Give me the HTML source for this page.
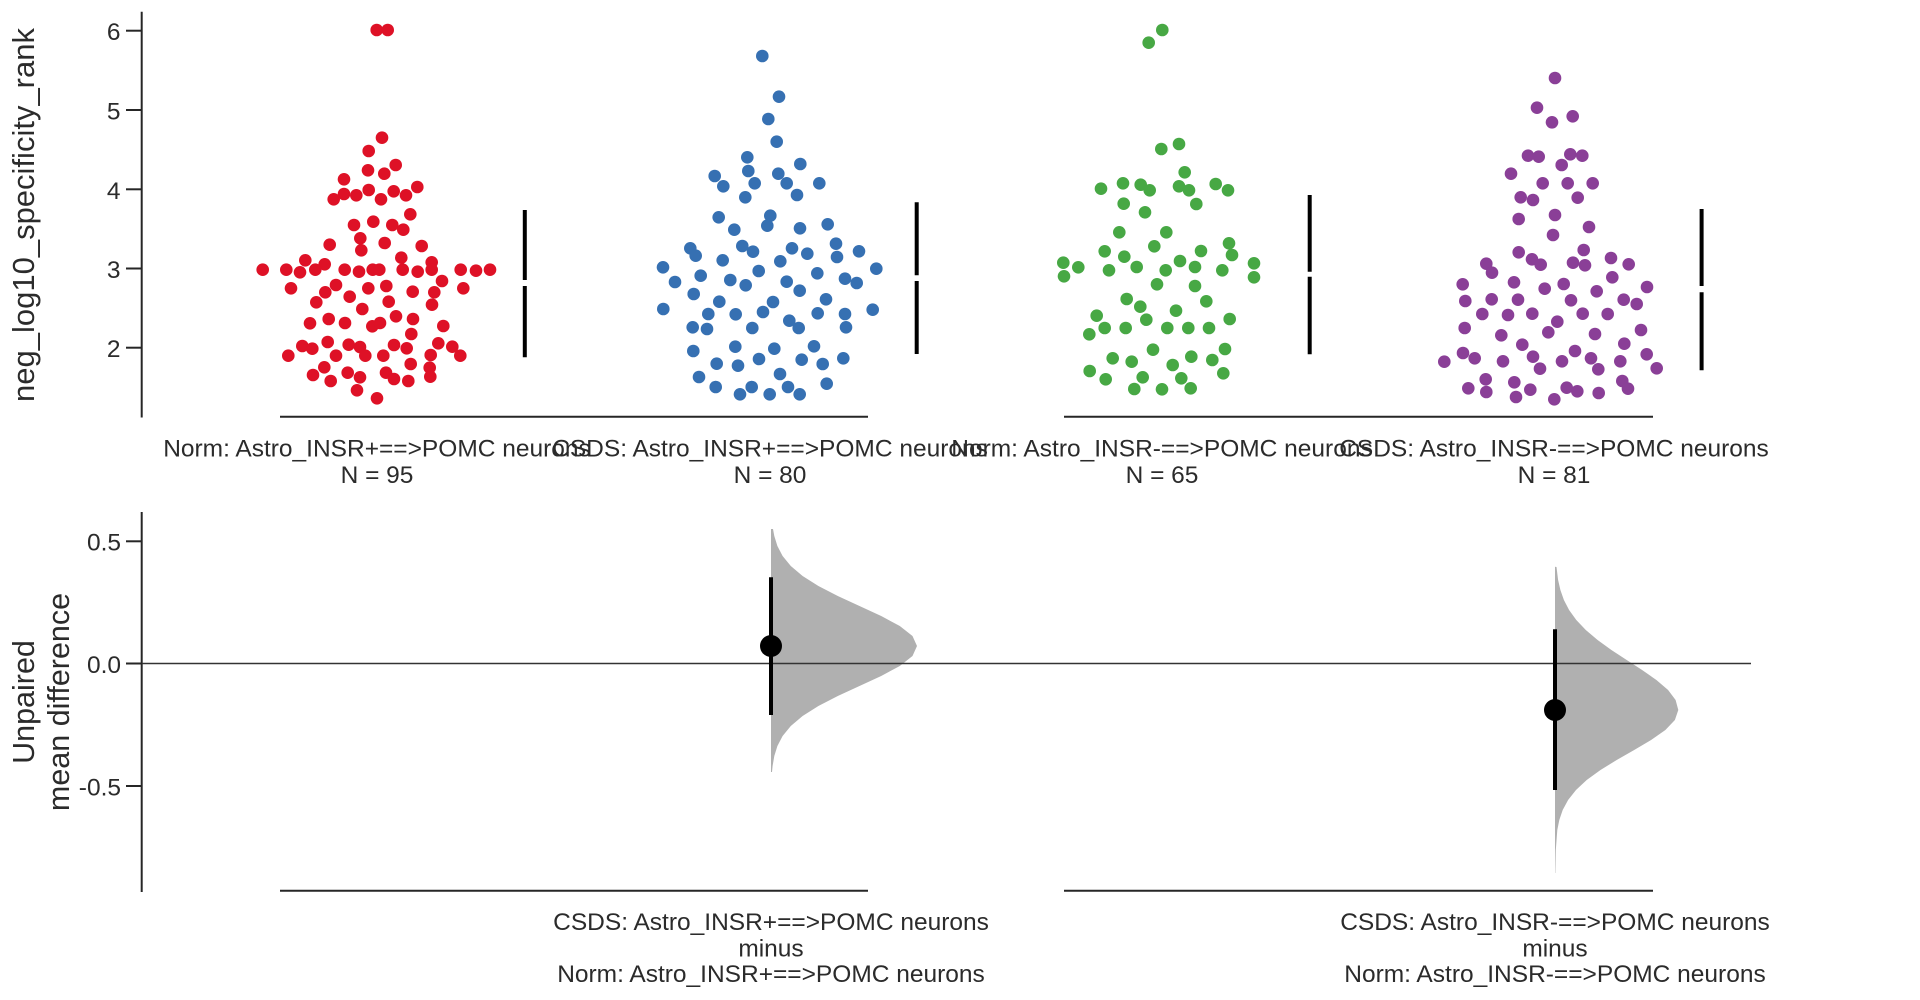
<!DOCTYPE html>
<html>
<head>
<meta charset="utf-8">
<style>
html,body{margin:0;padding:0;background:#fff;overflow:hidden;}
svg{display:block;}
text{font-family:"Liberation Sans",Arial,sans-serif;fill:#2b2b2b;}
</style>
</head>
<body>
<svg width="1920" height="1000" viewBox="0 0 1920 1000" xmlns="http://www.w3.org/2000/svg">
<rect x="0" y="0" width="1920" height="1000" fill="#fff"/>

<!-- ===== TOP PANEL AXES ===== -->
<g stroke="#262626" stroke-width="2" fill="none">
  <line x1="141.7" y1="11.7" x2="141.7" y2="417.5"/>
  <line x1="126" y1="30.7" x2="142" y2="30.7"/>
  <line x1="126" y1="110" x2="142" y2="110"/>
  <line x1="126" y1="189.3" x2="142" y2="189.3"/>
  <line x1="126" y1="268.5" x2="142" y2="268.5"/>
  <line x1="126" y1="347.7" x2="142" y2="347.7"/>
  <line x1="280" y1="416.7" x2="868" y2="416.7"/>
  <line x1="1064" y1="416.7" x2="1653" y2="416.7"/>
</g>
<g font-size="24.5" text-anchor="end">
  <text x="120.5" y="40.2">6</text>
  <text x="120.5" y="119.5">5</text>
  <text x="120.5" y="198.8">4</text>
  <text x="120.5" y="278">3</text>
  <text x="120.5" y="357.2">2</text>
</g>
<text transform="translate(34,215) rotate(-90)" text-anchor="middle" font-size="31">neg_log10_specificity_rank</text>

<g font-size="24.5" text-anchor="middle">
  <text x="377" y="456.5">Norm: Astro_INSR+==&gt;POMC neurons</text>
  <text x="377" y="483">N = 95</text>
  <text x="770" y="456.5">CSDS: Astro_INSR+==&gt;POMC neurons</text>
  <text x="770" y="483">N = 80</text>
  <text x="1162" y="456.5">Norm: Astro_INSR-==&gt;POMC neurons</text>
  <text x="1162" y="483">N = 65</text>
  <text x="1554" y="456.5">CSDS: Astro_INSR-==&gt;POMC neurons</text>
  <text x="1554" y="483">N = 81</text>
</g>

<!-- error bars (mean ± sd with gap) -->
<g stroke="#000" stroke-width="4">
  <line x1="524.8" y1="210" x2="524.8" y2="280"/>
  <line x1="524.8" y1="286" x2="524.8" y2="357.3"/>
  <line x1="916.7" y1="202.3" x2="916.7" y2="275.3"/>
  <line x1="916.7" y1="281" x2="916.7" y2="354"/>
  <line x1="1309.7" y1="195" x2="1309.7" y2="271.7"/>
  <line x1="1309.7" y1="276.7" x2="1309.7" y2="354.3"/>
  <line x1="1701.6" y1="209" x2="1701.6" y2="286"/>
  <line x1="1701.6" y1="292.3" x2="1701.6" y2="370.3"/>
</g>

<!-- Group 1 red -->
<g fill="#de1126">
<circle cx="376.7" cy="30" r="6.3"/><circle cx="387.7" cy="30" r="6.3"/>
<circle cx="382" cy="137.7" r="6.3"/><circle cx="368.7" cy="151" r="6.3"/>
<circle cx="395.7" cy="165" r="6.3"/><circle cx="368" cy="170.3" r="6.3"/>
<circle cx="384.3" cy="173.7" r="6.3"/><circle cx="344" cy="179.3" r="6.3"/>
<circle cx="417.3" cy="187" r="6.3"/><circle cx="344" cy="194" r="6.3"/>
<circle cx="356.3" cy="195.3" r="6.3"/><circle cx="368.7" cy="190" r="6.3"/>
<circle cx="393.7" cy="191.3" r="6.3"/><circle cx="406" cy="195.3" r="6.3"/>
<circle cx="381" cy="199.3" r="6.3"/><circle cx="333.7" cy="199.3" r="6.3"/>
<circle cx="410.3" cy="214.3" r="6.3"/><circle cx="354" cy="225" r="6.3"/>
<circle cx="373.3" cy="221.7" r="6.3"/><circle cx="392.3" cy="225" r="6.3"/>
<circle cx="403.3" cy="229.7" r="6.3"/><circle cx="360.3" cy="238.3" r="6.3"/>
<circle cx="329.7" cy="244.7" r="6.3"/><circle cx="384.7" cy="243" r="6.3"/>
<circle cx="421.7" cy="246" r="6.3"/><circle cx="361.3" cy="250.3" r="6.3"/>
<circle cx="401.3" cy="257.7" r="6.3"/><circle cx="305.3" cy="260.3" r="6.3"/>
<circle cx="324.7" cy="264.3" r="6.3"/><circle cx="431.7" cy="262.3" r="6.3"/>
<circle cx="262.7" cy="269.7" r="6.3"/><circle cx="286.3" cy="269.7" r="6.3"/>
<circle cx="300" cy="272.3" r="6.3"/><circle cx="315.3" cy="269.7" r="6.3"/>
<circle cx="344.7" cy="269.7" r="6.3"/><circle cx="359" cy="271.7" r="6.3"/>
<circle cx="372.7" cy="269.7" r="6.3"/><circle cx="379.3" cy="269.7" r="6.3"/>
<circle cx="402.7" cy="269.7" r="6.3"/><circle cx="417.7" cy="271.7" r="6.3"/>
<circle cx="431.7" cy="269.7" r="6.3"/><circle cx="460.7" cy="269.7" r="6.3"/>
<circle cx="476" cy="270.7" r="6.3"/><circle cx="490" cy="269.7" r="6.3"/>
<circle cx="442" cy="281" r="6.3"/><circle cx="291" cy="288.3" r="6.3"/>
<circle cx="336" cy="285" r="6.3"/><circle cx="368.3" cy="288.3" r="6.3"/>
<circle cx="386.3" cy="286" r="6.3"/><circle cx="412.7" cy="291.7" r="6.3"/>
<circle cx="434.3" cy="292.3" r="6.3"/><circle cx="463.3" cy="288.3" r="6.3"/>
<circle cx="325.3" cy="292.3" r="6.3"/><circle cx="349.7" cy="296.7" r="6.3"/>
<circle cx="316.3" cy="302.3" r="6.3"/><circle cx="388.7" cy="301.7" r="6.3"/>
<circle cx="432" cy="304.7" r="6.3"/><circle cx="362.3" cy="309" r="6.3"/>
<circle cx="396" cy="316.3" r="6.3"/><circle cx="413" cy="319" r="6.3"/>
<circle cx="328.7" cy="319" r="6.3"/><circle cx="310" cy="323.3" r="6.3"/>
<circle cx="345" cy="323" r="6.3"/><circle cx="372.3" cy="326.3" r="6.3"/>
<circle cx="380" cy="323" r="6.3"/><circle cx="443.3" cy="326" r="6.3"/>
<circle cx="411.3" cy="334" r="6.3"/><circle cx="327.7" cy="342" r="6.3"/>
<circle cx="302.3" cy="346" r="6.3"/><circle cx="312.3" cy="348.7" r="6.3"/>
<circle cx="348.7" cy="344.7" r="6.3"/><circle cx="360" cy="347" r="6.3"/>
<circle cx="365.3" cy="355.7" r="6.3"/><circle cx="394" cy="345" r="6.3"/>
<circle cx="406.7" cy="348.3" r="6.3"/><circle cx="438.3" cy="343.3" r="6.3"/>
<circle cx="452.3" cy="346.7" r="6.3"/><circle cx="288.3" cy="355.7" r="6.3"/>
<circle cx="336" cy="355.7" r="6.3"/><circle cx="383.3" cy="355.7" r="6.3"/>
<circle cx="430.7" cy="355" r="6.3"/><circle cx="460.3" cy="355.7" r="6.3"/>
<circle cx="410.7" cy="364" r="6.3"/><circle cx="324.3" cy="367.3" r="6.3"/>
<circle cx="429.7" cy="367.7" r="6.3"/><circle cx="313" cy="375" r="6.3"/>
<circle cx="347.7" cy="372.7" r="6.3"/><circle cx="360" cy="377.3" r="6.3"/>
<circle cx="386" cy="372.7" r="6.3"/><circle cx="394" cy="379" r="6.3"/>
<circle cx="408.3" cy="381" r="6.3"/><circle cx="430.3" cy="376.7" r="6.3"/>
<circle cx="330.7" cy="381" r="6.3"/><circle cx="357" cy="390.3" r="6.3"/>
<circle cx="377" cy="398.3" r="6.3"/>
</g>

<!-- Group 2 blue -->
<g fill="#3670b2">
<circle cx="762.3" cy="56" r="6.3"/><circle cx="779" cy="96.7" r="6.3"/>
<circle cx="768.3" cy="119" r="6.3"/><circle cx="776.7" cy="141.7" r="6.3"/>
<circle cx="747.3" cy="157.3" r="6.3"/><circle cx="800.3" cy="164" r="6.3"/>
<circle cx="748.3" cy="171" r="6.3"/><circle cx="778.3" cy="173.7" r="6.3"/>
<circle cx="714.7" cy="176" r="6.3"/><circle cx="723.3" cy="186.3" r="6.3"/>
<circle cx="754.7" cy="183.3" r="6.3"/><circle cx="786.7" cy="183.3" r="6.3"/>
<circle cx="819.3" cy="183.3" r="6.3"/><circle cx="797" cy="195" r="6.3"/>
<circle cx="745.3" cy="197.3" r="6.3"/><circle cx="718.7" cy="217.3" r="6.3"/>
<circle cx="770.3" cy="215.7" r="6.3"/><circle cx="767.3" cy="225.7" r="6.3"/>
<circle cx="734.3" cy="229.7" r="6.3"/><circle cx="800" cy="228.3" r="6.3"/>
<circle cx="827.7" cy="224.3" r="6.3"/><circle cx="690.3" cy="248.3" r="6.3"/>
<circle cx="695.7" cy="255.7" r="6.3"/><circle cx="742.3" cy="246" r="6.3"/>
<circle cx="753" cy="251.7" r="6.3"/><circle cx="792" cy="248.3" r="6.3"/>
<circle cx="807.3" cy="253.7" r="6.3"/><circle cx="836" cy="243.7" r="6.3"/>
<circle cx="837" cy="257" r="6.3"/><circle cx="859" cy="251.3" r="6.3"/>
<circle cx="722.7" cy="260.3" r="6.3"/><circle cx="780.3" cy="261.3" r="6.3"/>
<circle cx="663" cy="267.3" r="6.3"/><circle cx="876.3" cy="268.7" r="6.3"/>
<circle cx="675" cy="282" r="6.3"/><circle cx="700.7" cy="275.7" r="6.3"/>
<circle cx="730.3" cy="280" r="6.3"/><circle cx="745.7" cy="285.3" r="6.3"/>
<circle cx="758.7" cy="271" r="6.3"/><circle cx="786.7" cy="281.7" r="6.3"/>
<circle cx="817.3" cy="273.3" r="6.3"/><circle cx="845" cy="278.7" r="6.3"/>
<circle cx="856.7" cy="283" r="6.3"/><circle cx="799.7" cy="290.7" r="6.3"/>
<circle cx="693.7" cy="294" r="6.3"/><circle cx="719.3" cy="301.7" r="6.3"/>
<circle cx="773" cy="302" r="6.3"/><circle cx="826" cy="299.3" r="6.3"/>
<circle cx="663.3" cy="309" r="6.3"/><circle cx="708.3" cy="314" r="6.3"/>
<circle cx="735.7" cy="314.3" r="6.3"/><circle cx="763" cy="312" r="6.3"/>
<circle cx="789.3" cy="320.7" r="6.3"/><circle cx="817.7" cy="313.3" r="6.3"/>
<circle cx="845" cy="314" r="6.3"/><circle cx="872.7" cy="309.7" r="6.3"/>
<circle cx="692.7" cy="327.3" r="6.3"/><circle cx="707" cy="329" r="6.3"/>
<circle cx="752.3" cy="328" r="6.3"/><circle cx="798.7" cy="328" r="6.3"/>
<circle cx="846" cy="327.3" r="6.3"/><circle cx="693.3" cy="351" r="6.3"/>
<circle cx="735.3" cy="346.7" r="6.3"/><circle cx="774.3" cy="348.7" r="6.3"/>
<circle cx="814" cy="346.3" r="6.3"/><circle cx="843.3" cy="358.3" r="6.3"/>
<circle cx="716.7" cy="363.7" r="6.3"/><circle cx="738" cy="365.7" r="6.3"/>
<circle cx="759" cy="359" r="6.3"/><circle cx="801.7" cy="359.7" r="6.3"/>
<circle cx="822.7" cy="364" r="6.3"/><circle cx="699" cy="377" r="6.3"/>
<circle cx="780" cy="374" r="6.3"/><circle cx="826.7" cy="383.7" r="6.3"/>
<circle cx="715.7" cy="387" r="6.3"/><circle cx="751.7" cy="387" r="6.3"/>
<circle cx="788" cy="387" r="6.3"/><circle cx="740" cy="394.3" r="6.3"/>
<circle cx="769.7" cy="394.3" r="6.3"/><circle cx="799.7" cy="394.3" r="6.3"/>
</g>

<!-- Group 3 green -->
<g fill="#47a844">
<circle cx="1162.3" cy="30" r="6.3"/><circle cx="1148.7" cy="42.7" r="6.3"/>
<circle cx="1161.3" cy="149" r="6.3"/><circle cx="1179" cy="144" r="6.3"/>
<circle cx="1184.7" cy="172.3" r="6.3"/><circle cx="1101" cy="188.7" r="6.3"/>
<circle cx="1123" cy="183.3" r="6.3"/><circle cx="1140.7" cy="184.7" r="6.3"/>
<circle cx="1149.7" cy="190.3" r="6.3"/><circle cx="1179" cy="186.3" r="6.3"/>
<circle cx="1189" cy="190.3" r="6.3"/><circle cx="1215.7" cy="184" r="6.3"/>
<circle cx="1228" cy="190.3" r="6.3"/><circle cx="1123.7" cy="203.7" r="6.3"/>
<circle cx="1196.3" cy="204" r="6.3"/><circle cx="1145" cy="212.3" r="6.3"/>
<circle cx="1119.3" cy="232.3" r="6.3"/><circle cx="1166.3" cy="232.3" r="6.3"/>
<circle cx="1154.3" cy="246.3" r="6.3"/><circle cx="1229" cy="243.3" r="6.3"/>
<circle cx="1104.7" cy="251.3" r="6.3"/><circle cx="1124.3" cy="256.7" r="6.3"/>
<circle cx="1201" cy="251" r="6.3"/><circle cx="1232" cy="255" r="6.3"/>
<circle cx="1063.3" cy="262.7" r="6.3"/><circle cx="1078.3" cy="267.3" r="6.3"/>
<circle cx="1064" cy="276.3" r="6.3"/><circle cx="1109" cy="270.3" r="6.3"/>
<circle cx="1136.7" cy="267" r="6.3"/><circle cx="1165.7" cy="270.3" r="6.3"/>
<circle cx="1180" cy="261" r="6.3"/><circle cx="1195" cy="267" r="6.3"/>
<circle cx="1222.3" cy="270.3" r="6.3"/><circle cx="1254" cy="263.3" r="6.3"/>
<circle cx="1254" cy="277.3" r="6.3"/><circle cx="1157" cy="284.3" r="6.3"/>
<circle cx="1195" cy="286" r="6.3"/><circle cx="1126.7" cy="299" r="6.3"/>
<circle cx="1140.3" cy="306.7" r="6.3"/><circle cx="1206.3" cy="301.3" r="6.3"/>
<circle cx="1096.7" cy="315.7" r="6.3"/><circle cx="1176" cy="310.7" r="6.3"/>
<circle cx="1146.3" cy="319.7" r="6.3"/><circle cx="1229.7" cy="319" r="6.3"/>
<circle cx="1089.3" cy="334.3" r="6.3"/><circle cx="1104.7" cy="328" r="6.3"/>
<circle cx="1125.7" cy="328" r="6.3"/><circle cx="1167.3" cy="328" r="6.3"/>
<circle cx="1188.3" cy="328" r="6.3"/><circle cx="1209" cy="328" r="6.3"/>
<circle cx="1153" cy="349.7" r="6.3"/><circle cx="1225" cy="349" r="6.3"/>
<circle cx="1112.7" cy="358.3" r="6.3"/><circle cx="1131.7" cy="361.7" r="6.3"/>
<circle cx="1172.7" cy="365" r="6.3"/><circle cx="1191.3" cy="356.7" r="6.3"/>
<circle cx="1212.3" cy="360" r="6.3"/><circle cx="1089.7" cy="371" r="6.3"/>
<circle cx="1223.3" cy="373.3" r="6.3"/><circle cx="1105.7" cy="379.3" r="6.3"/>
<circle cx="1142.7" cy="377.3" r="6.3"/><circle cx="1181.3" cy="378.3" r="6.3"/>
<circle cx="1134.3" cy="389" r="6.3"/><circle cx="1162" cy="389.3" r="6.3"/>
<circle cx="1190.7" cy="388.3" r="6.3"/>
</g>

<!-- Group 4 purple -->
<g fill="#8a3f97">
<circle cx="1555" cy="78" r="6.3"/><circle cx="1537" cy="107.7" r="6.3"/>
<circle cx="1552" cy="122.3" r="6.3"/><circle cx="1572.7" cy="116.3" r="6.3"/>
<circle cx="1528" cy="155.7" r="6.3"/><circle cx="1538.7" cy="156.7" r="6.3"/>
<circle cx="1570.3" cy="154.3" r="6.3"/><circle cx="1582.3" cy="155.7" r="6.3"/>
<circle cx="1561.7" cy="165" r="6.3"/><circle cx="1511" cy="173.7" r="6.3"/>
<circle cx="1542.7" cy="183.3" r="6.3"/><circle cx="1567.7" cy="183.3" r="6.3"/>
<circle cx="1592.7" cy="183.3" r="6.3"/><circle cx="1520.7" cy="197.3" r="6.3"/>
<circle cx="1533" cy="200" r="6.3"/><circle cx="1577.7" cy="197.7" r="6.3"/>
<circle cx="1555" cy="215" r="6.3"/><circle cx="1518.7" cy="219" r="6.3"/>
<circle cx="1589" cy="227" r="6.3"/><circle cx="1553" cy="235" r="6.3"/>
<circle cx="1518.7" cy="252.3" r="6.3"/><circle cx="1583.7" cy="250" r="6.3"/>
<circle cx="1486.3" cy="263.7" r="6.3"/><circle cx="1492" cy="272.7" r="6.3"/>
<circle cx="1532" cy="259.3" r="6.3"/><circle cx="1540.7" cy="264.7" r="6.3"/>
<circle cx="1573" cy="262.7" r="6.3"/><circle cx="1585" cy="265.3" r="6.3"/>
<circle cx="1611" cy="258" r="6.3"/><circle cx="1628.7" cy="264.3" r="6.3"/>
<circle cx="1612.3" cy="277.3" r="6.3"/><circle cx="1462.7" cy="284.3" r="6.3"/>
<circle cx="1514" cy="282.3" r="6.3"/><circle cx="1544.7" cy="288.7" r="6.3"/>
<circle cx="1563.7" cy="284" r="6.3"/><circle cx="1596.7" cy="291.3" r="6.3"/>
<circle cx="1647" cy="287" r="6.3"/><circle cx="1465.3" cy="301" r="6.3"/>
<circle cx="1491.7" cy="299.3" r="6.3"/><circle cx="1518" cy="299.7" r="6.3"/>
<circle cx="1571" cy="300.3" r="6.3"/><circle cx="1623.7" cy="299.7" r="6.3"/>
<circle cx="1636.7" cy="304" r="6.3"/><circle cx="1482.3" cy="314" r="6.3"/>
<circle cx="1508" cy="315" r="6.3"/><circle cx="1532.3" cy="313.7" r="6.3"/>
<circle cx="1582.7" cy="313.7" r="6.3"/><circle cx="1607.7" cy="314" r="6.3"/>
<circle cx="1557.3" cy="321.7" r="6.3"/><circle cx="1464.7" cy="328" r="6.3"/>
<circle cx="1501.3" cy="335.3" r="6.3"/><circle cx="1548.3" cy="332.3" r="6.3"/>
<circle cx="1595" cy="334" r="6.3"/><circle cx="1641" cy="330" r="6.3"/>
<circle cx="1522.3" cy="344.7" r="6.3"/><circle cx="1624.3" cy="343.7" r="6.3"/>
<circle cx="1463" cy="353" r="6.3"/><circle cx="1474.7" cy="358.3" r="6.3"/>
<circle cx="1444.3" cy="361.7" r="6.3"/><circle cx="1503" cy="361.3" r="6.3"/>
<circle cx="1533" cy="356.7" r="6.3"/><circle cx="1540" cy="368.7" r="6.3"/>
<circle cx="1562" cy="361.3" r="6.3"/><circle cx="1575" cy="351" r="6.3"/>
<circle cx="1591" cy="358.3" r="6.3"/><circle cx="1598.3" cy="369.3" r="6.3"/>
<circle cx="1620.3" cy="361.3" r="6.3"/><circle cx="1646.7" cy="354.3" r="6.3"/>
<circle cx="1656.7" cy="368.3" r="6.3"/><circle cx="1485.7" cy="379.3" r="6.3"/>
<circle cx="1468.3" cy="388.3" r="6.3"/><circle cx="1486.3" cy="392" r="6.3"/>
<circle cx="1514.3" cy="382.3" r="6.3"/><circle cx="1516" cy="397" r="6.3"/>
<circle cx="1530.3" cy="389.7" r="6.3"/><circle cx="1554.3" cy="399.3" r="6.3"/>
<circle cx="1566.7" cy="387.7" r="6.3"/><circle cx="1577.3" cy="391.3" r="6.3"/>
<circle cx="1598.7" cy="393" r="6.3"/><circle cx="1622.3" cy="381" r="6.3"/>
<circle cx="1628" cy="388.7" r="6.3"/>
</g>

<!-- ===== BOTTOM PANEL ===== -->
<!-- violins -->
<path fill="#b0b0b0" d="M771 529 L773 529 L774.3 536 L777.4 546 L782.6 556 L790.8 566 L802.6 576 L818.4 586 L837.8 596 L859.5 606 L881.2 616 L899.8 626 L912.5 636 L917 646 L912.5 656 L899.8 666 L881.2 676 L859.5 686 L837.8 696 L818.4 706 L802.6 716 L790.8 726 L782.6 736 L777.4 746 L774.3 756 L772.6 766 L772 772 L771 772 Z"/>
<path fill="#b0b0b0" d="M1555 566.7 L1556.5 567 L1558.1 580 L1560.4 590 L1563.9 600 L1569.1 610 L1576.3 620 L1585.8 630 L1597.6 640 L1611.4 650 L1626.7 660 L1642.1 670 L1656.4 680 L1668.1 690 L1675.6 700 L1678.3 710 L1674.9 720 L1665.4 730 L1651.1 740 L1634.2 750 L1616.7 760 L1600.5 770 L1586.7 780 L1576 790 L1568.1 800 L1562.7 810 L1559.3 820 L1557.3 830 L1555.8 850 L1555.3 873 L1555 873 Z"/>

<g stroke="#262626" stroke-width="2" fill="none">
  <line x1="141.7" y1="512" x2="141.7" y2="892"/>
  <line x1="126" y1="541.3" x2="142" y2="541.3"/>
  <line x1="126" y1="663.5" x2="142" y2="663.5"/>
  <line x1="126" y1="786" x2="142" y2="786"/>
  <line x1="280" y1="890.7" x2="868" y2="890.7"/>
  <line x1="1064" y1="890.7" x2="1653" y2="890.7"/>
</g>
<line x1="142" y1="663.5" x2="1751" y2="663.5" stroke="#333" stroke-width="1.5"/>

<g font-size="24.5" text-anchor="end">
  <text x="121" y="550.5">0.5</text>
  <text x="121" y="672.8">0.0</text>
  <text x="121" y="795.3">-0.5</text>
</g>
<g font-size="30.5" text-anchor="middle">
  <text transform="translate(34,702) rotate(-90)">Unpaired</text>
  <text transform="translate(69,702) rotate(-90)">mean difference</text>
</g>

<!-- CIs and effect dots -->
<g stroke="#000" stroke-width="4">
  <line x1="771" y1="577.3" x2="771" y2="715"/>
  <line x1="1555" y1="629.3" x2="1555" y2="790"/>
</g>
<circle cx="771" cy="646" r="11" fill="#000"/>
<circle cx="1555" cy="710" r="11" fill="#000"/>

<g font-size="24.5" text-anchor="middle">
  <text x="771" y="930">CSDS: Astro_INSR+==&gt;POMC neurons</text>
  <text x="771" y="956.5">minus</text>
  <text x="771" y="982">Norm: Astro_INSR+==&gt;POMC neurons</text>
  <text x="1555" y="930">CSDS: Astro_INSR-==&gt;POMC neurons</text>
  <text x="1555" y="956.5">minus</text>
  <text x="1555" y="982">Norm: Astro_INSR-==&gt;POMC neurons</text>
</g>
</svg>
</body>
</html>
